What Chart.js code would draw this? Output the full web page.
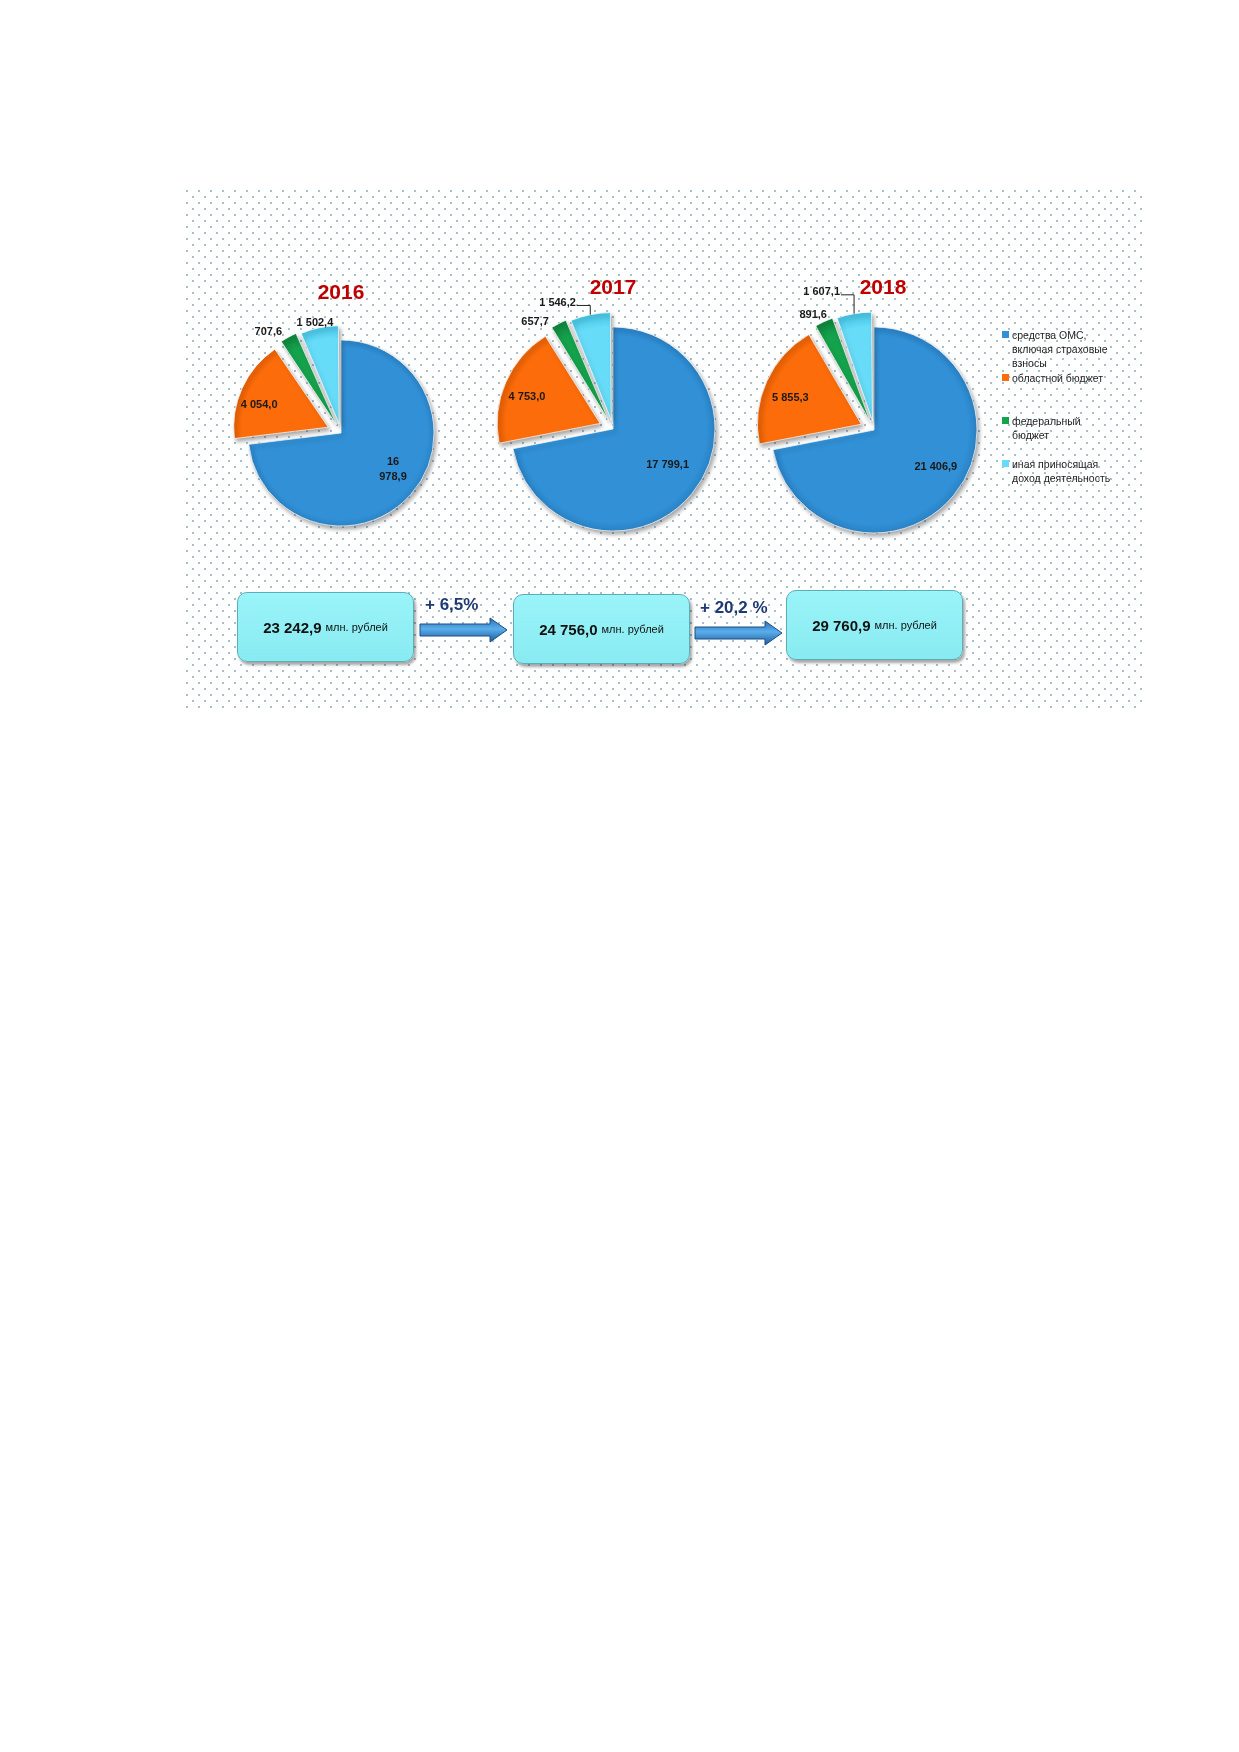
<!DOCTYPE html>
<html lang="ru">
<head>
<meta charset="utf-8">
<title>Источники финансирования 2016-2018</title>
<script src="https://cdn.jsdelivr.net/npm/chart.js@4.4.0/dist/chart.umd.min.js"></script>
<style>
  html, body { margin: 0; padding: 0; background: #fff; }
  body { width: 1239px; height: 1752px; position: relative; font-family: "Liberation Sans", Arial, sans-serif; }
  #panel {
    position: absolute; left: 186px; top: 190px; width: 959px; height: 518px;
    background-color: #fff;
    background-image:
      radial-gradient(circle at 1px 1px, rgba(50,110,150,0.6) 0.6px, transparent 1px),
      radial-gradient(circle at 7px 7px, rgba(50,110,150,0.6) 0.6px, transparent 1px);
    background-size: 12px 12px;
  }
  canvas.pie { position: absolute; }
  .year { position: absolute; width: 80px; margin-left: -40px; text-align: center;
          font: bold 21px "Liberation Sans", Arial, sans-serif; color: #c00000; line-height: 24px; }
  #legend { position: absolute; left: 1002px; top: 328px; width: 112px; }
  .item { position: relative; height: 43px; padding-left: 10px;
          font-size: 10.5px; line-height: 14px; color: #1d1d1d; }
  .item i { position: absolute; left: 0; top: 3px; width: 7px; height: 7px; }
  .box { position: absolute; width: 175px; height: 68px; border-radius: 10px;
         background: linear-gradient(#9af4f9, #88ebf1); border: 1px solid #5aaeb7;
         box-shadow: 2px 3px 3px rgba(0,0,0,0.35);
         display: flex; align-items: center; justify-content: center; color: #111; }
  .box b { font-size: 15px; }
  .box span { font-size: 11px; margin-left: 4px; }
  .growth { position: absolute; font: bold 17px "Liberation Sans", Arial, sans-serif; color: #1f3a73; }
  svg.arrow { position: absolute; }
</style>
</head>
<body>
<div id="panel"></div>
<canvas class="pie" id="pie0" width="320" height="320"></canvas>
<canvas class="pie" id="pie1" width="320" height="320"></canvas>
<canvas class="pie" id="pie2" width="320" height="320"></canvas>
<div id="legend"></div>

<script>
// источники финансирования, млн. рублей
const categories = ['средства ОМС, включая страховые взносы', 'областной бюджет', 'федеральный бюджет', 'иная приносящая доход деятельность'];
const years = ['2016', '2017', '2018'];
const values2016 = [16978.9, 4054.0, 707.6, 1502.4];
const values2017 = [17799.1, 4753.0, 657.7, 1546.2];
const values2018 = [21406.9, 5855.3, 891.6, 1607.1];

const colors = ['#3190d6', '#fc6c0a', '#15a24c', '#66dcf8'];
const darker = ['#1f6eae', '#c94f00', '#0b7a35', '#33b4d6'];

// где рисовать каждый круг и подписи
const pies = [
  { values: values2016, cx: 341, cy: 433, r: 93,
    labels: [{k: .68, da: -6.8, wrap: true}, {k: .93, da: -5.5}, {k: 1.34, da: -6.9}, {k: 1.215, da: -1.7}] },
  { values: values2017, cx: 613, cy: 429, r: 102,
    labels: [{k: .64, da: -6.2}, {k: .9, da: -3}, {k: 1.3, da: -8.7}, {k: 1.35, da: -12.5, leader: true}] },
  { values: values2018, cx: 874, cy: 430, r: 103,
    labels: [{k: .70, da: -8.5}, {k: .87, da: -3.4}, {k: 1.26, da: -3.1}, {k: 1.43, da: -11.1, leader: true}] }
];
const explode = [0, 56, 36, 36];

function fmt(v) {
  const [i, d] = v.toFixed(1).split('.');
  return i.replace(/\B(?=(\d{3})+(?!\d))/g, ' ') + ',' + d;
}
const sum = a => a.reduce((s, v) => s + v, 0);

const shadow = {
  id: 'shadow',
  beforeDatasetsDraw(chart) {
    const c = chart.ctx;
    c.save();
    c.shadowColor = 'rgba(0,0,0,0.35)';
    c.shadowBlur = 4;
    c.shadowOffsetX = 2;
    c.shadowOffsetY = 3;
  },
  afterDatasetsDraw(chart) { chart.ctx.restore(); }
};

const sliceLabels = {
  id: 'sliceLabels',
  afterDraw(chart, args, opts) {
    const c = chart.ctx;
    const meta = chart.getDatasetMeta(0);
    const vals = chart.data.datasets[0].data;
    c.save();
    c.font = 'bold 11px "Liberation Sans", Arial, sans-serif';
    c.fillStyle = '#1a1a1a';
    c.textAlign = 'center';
    c.textBaseline = 'middle';
    meta.data.forEach((arc, i) => {
      const p = arc.getProps(['x', 'y', 'startAngle', 'endAngle', 'outerRadius', 'circumference'], true);
      const L = opts.layout[i];
      const mid = (p.startAngle + p.endAngle) / 2;
      const a = mid + L.da * Math.PI / 180;
      const lx = p.x + Math.cos(a) * p.outerRadius * L.k;
      const ly = p.y + Math.sin(a) * p.outerRadius * L.k;
      const text = fmt(vals[i]);
      const lines = L.wrap ? text.split(' ') : [text];
      lines.forEach((t, j) => c.fillText(t, lx, ly + (j - (lines.length - 1) / 2) * 15));
      if (L.leader) {
        const off = (arc.options.offset || 0) / 4;
        const fix = 1 - Math.sin(Math.min(Math.PI, p.circumference));
        const d = off + p.outerRadius + off * fix;
        const ex = p.x + Math.cos(mid) * d, ey = p.y + Math.sin(mid) * d;
        const w = c.measureText(text).width;
        c.strokeStyle = '#222';
        c.lineWidth = 1;
        c.beginPath();
        c.moveTo(lx + w / 2 + 1, ly + 2.5);
        c.lineTo(ex, ly + 2.5);
        c.lineTo(ex, ey);
        c.stroke();
      }
    });
    c.restore();
  }
};

// объёмный вид: к краю круга цвет темнеет
function sliceFill(r) {
  return ctx => {
    const i = ctx.dataIndex;
    const chart = ctx.chart;
    const a = chart.chartArea;
    if (!a || i === undefined) return colors[i] || colors[0];
    const x = (a.left + a.right) / 2, y = (a.top + a.bottom) / 2;
    const g = chart.ctx.createRadialGradient(x, y, 0, x, y, r + 12);
    g.addColorStop(0, colors[i]);
    g.addColorStop(0.82, colors[i]);
    g.addColorStop(1, darker[i]);
    return g;
  };
}

pies.forEach((pie, n) => {
  const cv = document.getElementById('pie' + n);
  cv.style.left = (pie.cx - 160) + 'px';
  cv.style.top = (pie.cy - 160) + 'px';
  new Chart(cv, {
    type: 'pie',
    data: {
      labels: categories,
      datasets: [{
        data: pie.values,
        backgroundColor: sliceFill(pie.r),
        borderColor: 'rgba(255,255,255,0.7)',
        borderWidth: 1,
        offset: explode
      }]
    },
    options: {
      responsive: false,
      animation: false,
      radius: pie.r,
      layout: { padding: 0 },
      plugins: {
        legend: { display: false },
        tooltip: { enabled: false },
        sliceLabels: { layout: pie.labels }
      }
    },
    plugins: [shadow, sliceLabels]
  });

  const t = document.createElement('div');
  t.className = 'year';
  t.textContent = years[n];
  t.style.left = [341, 613, 883][n] + 'px';
  t.style.top = [280, 275, 275][n] + 'px';
  document.body.appendChild(t);
});

// легенда
const legend = document.getElementById('legend');
categories.forEach((name, i) => {
  const d = document.createElement('div');
  d.className = 'item';
  d.innerHTML = '<i style="background:' + colors[i] + '"></i>' + name;
  legend.appendChild(d);
});

// итоги по годам и прирост
const totals = pies.map(p => sum(p.values));
const boxes = [[237, 592], [513, 594], [786, 590]];
totals.forEach((t, i) => {
  const b = document.createElement('div');
  b.className = 'box';
  b.style.left = boxes[i][0] + 'px';
  b.style.top = boxes[i][1] + 'px';
  b.innerHTML = '<b>' + fmt(t) + '</b><span>млн. рублей</span>';
  document.body.appendChild(b);
});

const arrows = [[419, 617], [694, 620]];
const pctSuffix = ['%', ' %'];
arrows.forEach((pos, i) => {
  const g = (totals[i + 1] / totals[i] - 1) * 100;
  const lab = document.createElement('div');
  lab.className = 'growth';
  lab.textContent = '+ ' + g.toFixed(1).replace('.', ',') + pctSuffix[i];
  lab.style.left = (pos[0] + 6) + 'px';
  lab.style.top = (pos[1] - 22) + 'px';
  document.body.appendChild(lab);

  const svgNS = 'http://www.w3.org/2000/svg';
  const s = document.createElementNS(svgNS, 'svg');
  s.setAttribute('class', 'arrow');
  s.setAttribute('width', '92');
  s.setAttribute('height', '28');
  s.style.left = pos[0] + 'px';
  s.style.top = pos[1] + 'px';
  s.innerHTML =
    '<defs><linearGradient id="ag' + i + '" x1="0" y1="0" x2="0" y2="1">' +
    '<stop offset="0" stop-color="#2a6fb8"/><stop offset="0.45" stop-color="#5aaeea"/>' +
    '<stop offset="1" stop-color="#1d5c9e"/></linearGradient></defs>' +
    '<path d="M1 7 H71 V1 L88 13 L71 25 V19 H1 Z" fill="url(#ag' + i + ')" stroke="#1b4f86" stroke-width="1"/>';
  document.body.appendChild(s);
});
</script>
</body>
</html>
